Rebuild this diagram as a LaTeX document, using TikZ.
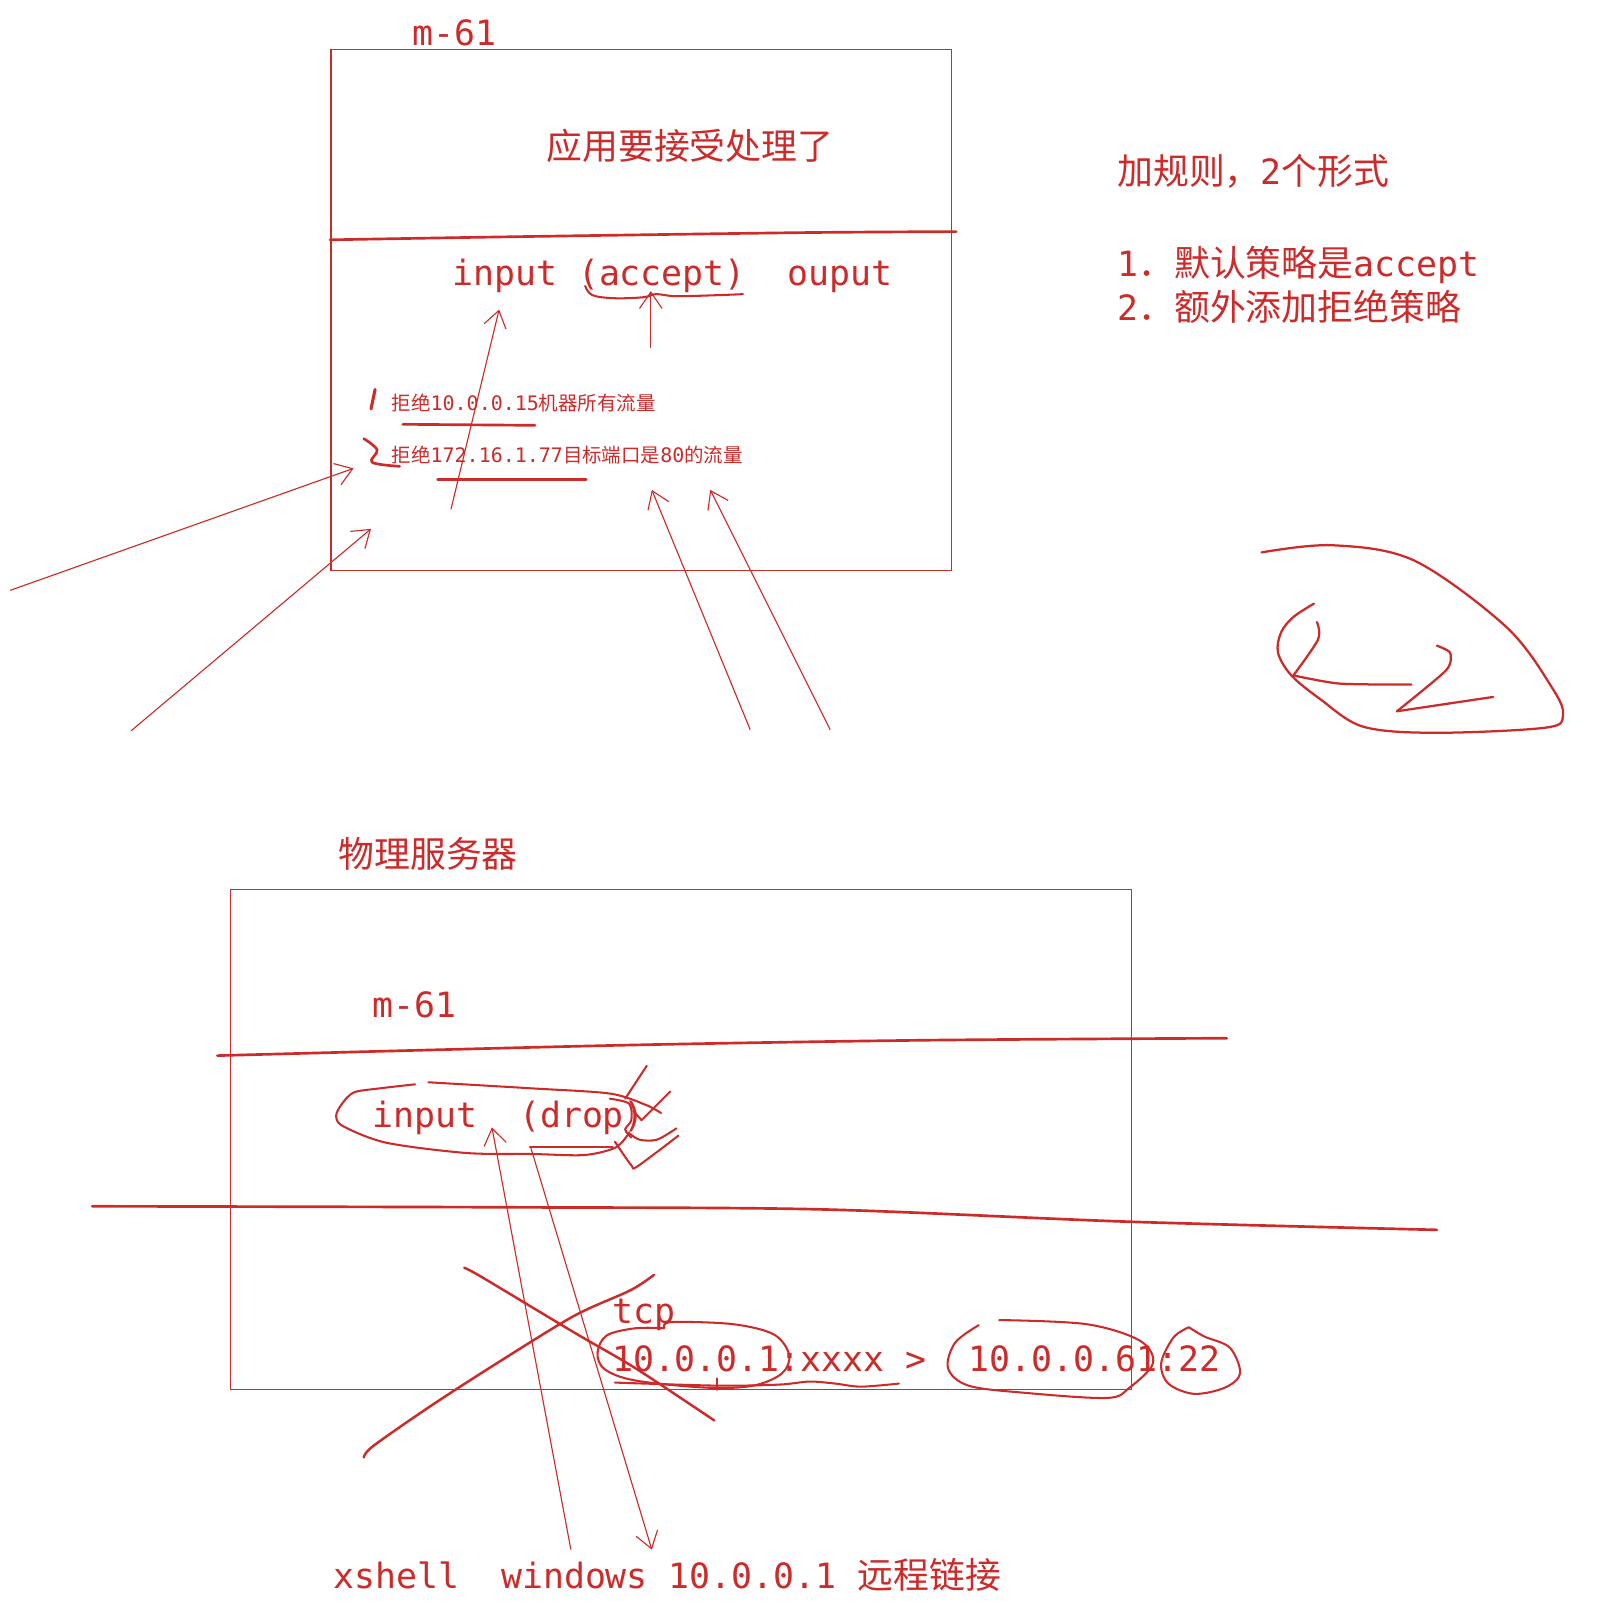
\documentclass[tikz,border=0pt]{standalone}
\usepackage{fontspec}
\setmonofont{DejaVu Sans Mono}
\newfontfamily\cjk{Noto Sans CJK SC}
\usetikzlibrary{arrows.meta}
\definecolor{ink}{RGB}{205,42,42}
\newcommand{\zh}[1]{{\cjk\fontsize{35}{40}\selectfont #1}}
\newcommand{\zhs}[1]{{\cjk\fontsize{19}{22}\selectfont #1}}
\begin{document}
\begin{tikzpicture}[x=1pt,y=-1pt,
  thinline/.style={draw=ink, line width=1.1pt},
  pen/.style={draw=ink, line width=2.6pt, line cap=round, line join=round},
  arr/.style={draw=ink, line width=1.1pt, -{Straight Barb[length=16pt,width=22pt,line width=1.1pt]}},
  mono/.style={text=ink, font=\ttfamily\fontsize{34}{40}\selectfont, inner sep=0pt, anchor=base west},
  smallmono/.style={text=ink, font=\ttfamily\fontsize{19.5}{22}\selectfont, inner sep=0pt, anchor=base west}]
\useasboundingbox (0,0) rectangle (1562,1568);
\fill[white] (0,0) rectangle (1562,1568);

% ---------- top box ----------
\draw[thinline] (323,48) rectangle (928,557);
\node[mono] (m61a) at (402,44) {m-61};
\node[mono] (app) at (533,156) {\zh{应用要接受处理了}};
\draw[pen] plot[smooth] coordinates {(322,234) (500,231) (780,227) (933,226)};
\node[mono] (inacc) at (441,279) {input (accept)~~ouput};
\draw[pen,line width=2pt] plot[smooth,tension=0.6] coordinates {(571,279) (578,288) (600,291) (628,290) (640,287) (660,289) (700,288) (725,287)};
\coordinate (a1s) at (635,340); \coordinate (a1e) at (635,284);
\draw[arr] (a1s) -- (a1e);
\coordinate (a2s) at (440,497); \coordinate (a2e) at (487,302);
\draw[arr] (a2s) -- (a2e);

\node[smallmono] (r1) at (382,401) {\zhs{拒绝}10.0.0.15\zhs{机器所有流量}};
\node[smallmono] (r2) at (382,451) {\zhs{拒绝}172.16.1.77\zhs{目标端口是}80\zhs{的流量}};
\draw[pen,line width=3pt] (366,380) -- (362,399);
\draw[pen] plot[smooth,tension=0.6] coordinates {(355,428) (368,439) (363,451) (390,455)};
\draw[pen] (393,414) -- (522,415);
\draw[pen] (427,468) -- (572,468);

\coordinate (a3s) at (10,576); \coordinate (a3e) at (345,457);
\draw[arr] (a3s) -- (a3e);
\coordinate (a4s) at (128,713); \coordinate (a4e) at (362,516);
\draw[arr] (a4s) -- (a4e);
\coordinate (a5s) at (732,712); \coordinate (a5e) at (636,478);
\draw[arr] (a5s) -- (a5e);
\coordinate (a6s) at (810,712); \coordinate (a6e) at (693,478);
\draw[arr] (a6s) -- (a6e);

% ---------- right notes ----------
\node[mono] (rules) at (1090,180) {\zh{加规则，}2\zh{个形式}};
\node[mono] (rule1) at (1090,270) {1\zh{．默认策略是}accept};
\node[mono] (rule2) at (1090,313) {2\zh{．额外添加拒绝策略}};

% scribble
\draw[pen,line width=2.2pt] plot[smooth,tension=0.55] coordinates {(1231,539) (1300,532) (1380,547) (1470,612) (1515,672) (1525,698) (1508,710) (1400,715) (1330,709) (1288,682) (1260,659) (1247,637) (1250,617) (1262,602) (1282,589)};
\draw[pen,line width=2.2pt] plot[smooth,tension=0.5] coordinates {(1285,607) (1286,624) (1262,659)};
\draw[pen,line width=2.2pt] plot[smooth,tension=0.4] coordinates {(1262,659) (1307,667) (1377,668)};
\draw[pen,line width=2.2pt] plot[smooth,tension=0.4] coordinates {(1402,630) (1415,637) (1411,654) (1363,694)};
\draw[pen,line width=2.2pt] (1363,694) -- (1457,680);

% ---------- bottom ----------
\node[mono] (phys) at (330,846) {\zh{物理服务器}};
\draw[thinline] (225,868) rectangle (1104,1356);
\node[mono] (m61b) at (363,993) {m-61};
\draw[pen] plot[smooth] coordinates {(212,1030) (600,1020) (900,1015) (1197,1013)};
\node[mono] (indrop) at (363,1100) {input~~(drop)};
\draw[pen,line width=2pt] plot[smooth,tension=0.5] coordinates {(405,1058) (370,1062) (345,1066) (333,1078) (328,1089) (335,1099) (377,1115) (455,1125) (520,1126) (570,1127) (600,1120) (612,1108)};
\draw[pen,line width=2pt] plot[smooth,tension=0.5] coordinates {(418,1056) (520,1062) (595,1067) (630,1078) (645,1086)};
\draw[pen,line width=2pt] (517,1119) -- (598,1119);
\draw[pen,line width=2pt] (631,1040) -- (610,1072);
\draw[pen,line width=2pt] plot[smooth,tension=0.5] coordinates {(595,1072) (614,1077) (616,1093) (610,1102) (616,1110)};
\draw[pen,line width=2pt] (618,1084) -- (626,1093) -- (654,1065);
\draw[pen,line width=2pt] plot[smooth,tension=0.5] coordinates {(613,1105) (624,1112) (641,1112) (660,1101)};
\draw[pen,line width=2pt] plot[smooth,tension=0.5] coordinates {(600,1114) (616,1137) (622,1138) (662,1108)};

\draw[pen] plot[smooth,tension=0.5] coordinates {(90,1177) (500,1178) (800,1180) (1100,1192) (1402,1200)};

\coordinate (b1s) at (557,1512); \coordinate (b1e) at (480,1100);
\draw[arr] (b1s) -- (b1e);
\coordinate (b2s) at (518,1120); \coordinate (b2e) at (636,1512);
\draw[arr] (b2s) -- (b2e);

% cross
\draw[pen,line width=2.4pt] plot[smooth,tension=0.5] coordinates {(453,1237) (470,1246) (560,1300) (620,1335) (697,1386)};
\draw[pen,line width=2.4pt] plot[smooth,tension=0.5] coordinates {(638,1244) (615,1259) (560,1284) (485,1330) (420,1372) (364,1411) (355,1422)};

\node[mono] (tcp) at (597,1291) {tcp};
\node[mono] (conn) at (597,1338) {10.0.0.1:xxxx >~~10.0.0.61:22};
% loops
\draw[pen,line width=2pt] plot[smooth,tension=0.55] coordinates {(648,1296) (655,1290) (715,1292) (755,1302) (770,1322) (763,1340) (735,1352) (690,1354) (620,1347) (590,1336) (583,1320) (592,1303) (620,1296) (648,1296)};
\draw[pen,line width=2pt] plot[smooth,tension=0.5] coordinates {(600,1349) (700,1352) (760,1351) (790,1348) (815,1350) (840,1353) (877,1350)};
\draw[pen,line width=2pt] (700,1345) -- (700,1356);
\draw[pen,line width=2pt] plot[smooth,tension=0.55] coordinates {(955,1293) (932,1310) (925,1335) (945,1352) (1000,1359) (1080,1364) (1102,1354) (1125,1330) (1112,1308) (1060,1292) (975,1288)};
\draw[pen,line width=2pt] plot[smooth,tension=0.55] coordinates {(1160,1295) (1175,1304) (1200,1315) (1210,1340) (1195,1354) (1165,1360) (1140,1350) (1133,1330) (1145,1305) (1160,1295)};

\node[mono] (bottom) at (325,1550) {xshell~~windows 10.0.0.1 \zh{远程链接}};
\end{tikzpicture}
\end{document}
